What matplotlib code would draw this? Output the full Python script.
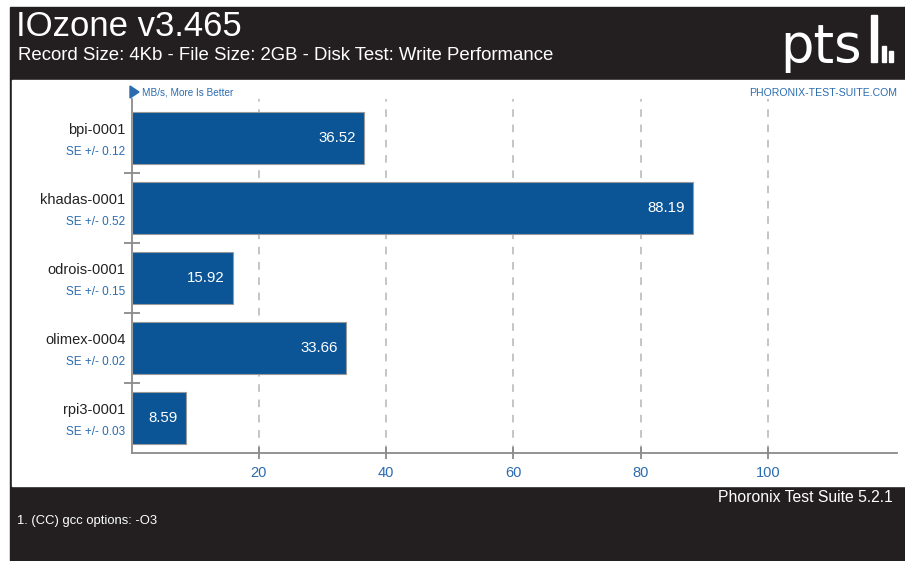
import matplotlib.pyplot as plt
from matplotlib.patches import Rectangle, Polygon

# chart data
systems = ['bpi-0001', 'khadas-0001', 'odrois-0001', 'olimex-0004', 'rpi3-0001']
values = [36.52, 88.19, 15.92, 33.66, 8.59]
errors = ['0.12', '0.52', '0.15', '0.02', '0.03']
x_ticks = [20, 40, 60, 80, 100]

title = 'IOzone v3.465'
subtitle = 'Record Size: 4Kb - File Size: 2GB - Disk Test: Write Performance'
footnote = '1. (CC) gcc options: -O3'
version = 'Phoronix Test Suite 5.2.1'

W, H = 905, 561
dark = '#231f20'
bar_blue = '#0b5596'
text_blue = '#2b6cb0'
axis_gray = '#8a8a8a'

plt.rcParams['font.family'] = ['Liberation Sans', 'DejaVu Sans']

fig = plt.figure(figsize=(W / 100, H / 100), dpi=100)
fig.patch.set_facecolor('white')


def px(x, y):
    # pixel coords (from top-left) -> figure fraction
    return x / W, 1 - y / H


def rect(x0, y0, x1, y1, color):
    fig.patches.append(Rectangle((x0 / W, 1 - y1 / H), (x1 - x0) / W, (y1 - y0) / H,
                                 transform=fig.transFigure, color=color, zorder=0))


# background panels
rect(10, 7, W, H, dark)
rect(12, 80, W, 486, 'white')

# header text
fig.text(*px(16, 27), title, color='white', fontsize=25, va='center', ha='left')
fig.text(*px(18, 55), subtitle, color='white', fontsize=13.4, va='center', ha='left')

# logo
fig.text(*px(780, 62), 'pts', color='white', fontsize=38, va='baseline', ha='left',
         family=['DejaVu Sans'])
rect(871, 15, 877, 62, 'white')
rect(882, 46, 886, 62, 'white')
rect(889, 51, 893, 62, 'white')

# sub header
tri = Polygon([px(130, 86), px(130, 98), px(139, 92)], closed=True,
              transform=fig.transFigure, color=text_blue)
fig.patches.append(tri)
fig.text(*px(142, 92.5), 'MB/s, More Is Better', color=text_blue, fontsize=7.2,
         va='center', ha='left')
fig.text(*px(897, 92.5), 'PHORONIX-TEST-SUITE.COM', color=text_blue, fontsize=7.6,
         va='center', ha='right')

# footer
fig.text(*px(893, 498), version, color='white', fontsize=11.3, va='center', ha='right')
fig.text(*px(17, 521), footnote, color='white', fontsize=9.4, va='center', ha='left')

# axes
ax_l, ax_r, ax_t, ax_b = 131.7, 897, 103, 453.3
ax = fig.add_axes([ax_l / W, 1 - ax_b / H, (ax_r - ax_l) / W, (ax_b - ax_t) / H])
ax.set_zorder(5)
ax.set_facecolor('none')
xmax = 120.3
ax.set_xlim(0, xmax)
ax.set_ylim(4.5, -0.5)

ypos = list(range(len(systems)))
ax.barh(ypos, values, height=0.74, color=bar_blue, edgecolor='#9a9a9a',
        linewidth=0.8, zorder=3)

for y, v in zip(ypos, values):
    ax.text(v - 1.3, y, f'{v:.2f}', color='white', fontsize=10.8,
            va='center', ha='right', zorder=4)
    ax.text(-1.0, y - 0.12, systems[y], color='#222222', fontsize=10.5,
            va='center', ha='right', clip_on=False)
    ax.text(-1.0, y + 0.2, f'SE +/- {errors[y]}', color=text_blue, fontsize=8.5,
            va='center', ha='right', clip_on=False)

# dashed grid
ax.vlines(x_ticks, 4.5, -0.55, colors='#b5b5b5', linestyles=(0, (5, 5)),
          linewidth=1.1, zorder=1, clip_on=False)

for s in ['top', 'right']:
    ax.spines[s].set_visible(False)
for s in ['left', 'bottom']:
    ax.spines[s].set_color(axis_gray)
    ax.spines[s].set_linewidth(1.3)
ax.spines['left'].set_bounds(4.5, -0.55)

ax.set_xticks(x_ticks)
ax.set_xticklabels([str(t) for t in x_ticks])
ax.tick_params(axis='x', direction='inout', length=8, width=1.3, color=axis_gray,
               labelcolor=text_blue, labelsize=10.5, pad=5)
ax.set_yticks([])
ax.set_yticks([0.5, 1.5, 2.5, 3.5], minor=True)
ax.tick_params(axis='y', which='minor', direction='inout', length=12, width=1.3,
               color=axis_gray)

fig.savefig('out.png', dpi=100)
